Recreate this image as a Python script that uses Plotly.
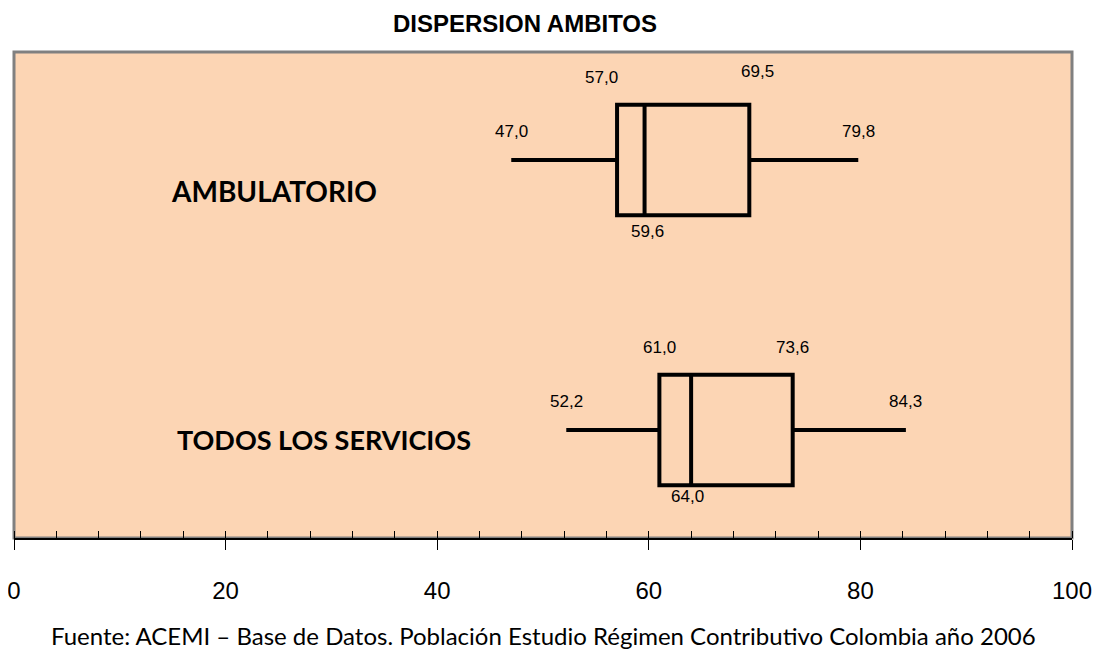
import plotly.graph_objects as go

# data (min, Q1, median, Q3, max)
categories = ["AMBULATORIO", "TODOS LOS SERVICIOS"]
minimum = [47.0, 52.2]
q1 = [57.0, 61.0]
median = [59.6, 64.0]
q3 = [69.5, 73.6]
maximum = [79.8, 84.3]
x_ticks = [0, 20, 40, 60, 80, 100]

BG = "#FCD5B4"
ARIAL = "Liberation Sans, Arial, sans-serif"
CALIBRI = "Lato, Carlito, Calibri, sans-serif"


def fmt(v):
    return f"{v:.1f}".replace(".", ",")


fig = go.Figure()
fig.add_trace(
    go.Box(
        y=categories,
        lowerfence=minimum,
        q1=q1,
        median=median,
        q3=q3,
        upperfence=maximum,
        orientation="h",
        boxpoints=False,
        whiskerwidth=0,
        width=0.41,
        line=dict(color="black", width=4),
        fillcolor="rgba(0,0,0,0)",
        hoverinfo="skip",
        showlegend=False,
    )
)

# value labels around each box: (value, xshift, yshift)
for i, cat in enumerate(categories):
    top = i == 0
    labels = [
        (minimum[i], 0, 29),
        (q1[i], -16 if top else 0, 83),
        (q3[i], 8 if top else 0, 89 if top else 83),
        (maximum[i], 0, 29),
        (median[i], 3 if top else -4, -71 if top else -66),
    ]
    for val, dx, dy in labels:
        fig.add_annotation(
            x=val, y=cat, text=fmt(val), showarrow=False, xshift=dx, yshift=dy,
            xanchor="center", yanchor="middle",
            font=dict(family=ARIAL, size=17, color="black"),
        )

# category names inside the plot
fig.add_annotation(x=0.246, y=0.715, xref="paper", yref="paper", text="<b>AMBULATORIO</b>",
                   showarrow=False, xanchor="center", yanchor="middle",
                   font=dict(family=CALIBRI, size=28, color="black"))
fig.add_annotation(x=0.293, y=0.202, xref="paper", yref="paper", text="<b>TODOS LOS SERVICIOS</b>",
                   showarrow=False, xanchor="center", yanchor="middle",
                   font=dict(family=CALIBRI, size=27, color="black"))

# title and source
fig.add_annotation(x=0.483, y=1, xref="paper", yref="paper", yshift=44,
                   text="<b>DISPERSION AMBITOS</b>", showarrow=False,
                   xanchor="center", yanchor="top",
                   font=dict(family=ARIAL, size=24, color="black"))
fig.add_annotation(x=0.5, y=0, xref="paper", yref="paper", yshift=-97,
                   text="Fuente: ACEMI – Base de Datos. Población Estudio Régimen Contributivo Colombia año 2006",
                   showarrow=False, xanchor="center", yanchor="middle",
                   font=dict(family=CALIBRI, size=24, color="black"))

# grey frame
fig.add_shape(type="rect", xref="paper", yref="paper", x0=0, x1=1, y0=0, y1=1,
              line=dict(color="#808080", width=3), layer="below")

# the page body adds an 8px margin, so the figure is 8px smaller each way
fig.update_layout(
    width=1095,
    height=644,
    paper_bgcolor="white",
    plot_bgcolor=BG,
    margin=dict(l=6, r=31, t=44, b=114),
    xaxis=dict(
        range=[0, 100],
        tickvals=x_ticks,
        ticks="outside",
        ticklen=10,
        tickwidth=1,
        tickcolor="black",
        showline=True,
        linecolor="black",
        linewidth=2,
        showgrid=False,
        zeroline=False,
        automargin=False,
        ticklabelstandoff=20,
        ticklabeloverflow="allow",
        tickfont=dict(family=ARIAL, size=24, color="black"),
        minor=dict(dtick=4, ticks="inside", ticklen=7, tickcolor="black", tickwidth=1, showgrid=False),
    ),
    yaxis=dict(
        range=[-0.4, 1.4],
        categoryorder="array",
        categoryarray=categories[::-1],
        showticklabels=False,
        showgrid=False,
        zeroline=False,
        automargin=False,
        ticks="",
    ),
)

fig.write_html("out.html")
